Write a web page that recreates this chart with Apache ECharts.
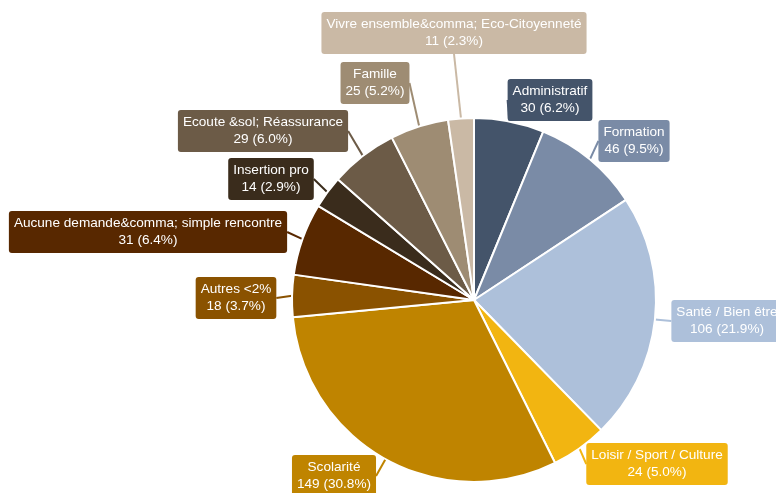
<!DOCTYPE html>
<html>
<head>
<meta charset="utf-8">
<script src="https://cdn.jsdelivr.net/npm/echarts@6/dist/echarts.min.js"></script>
<style>
  html, body { margin: 0; padding: 0; background: #ffffff; }
  #chart { width: 776px; height: 493px; }
</style>
</head>
<body>
<div id="chart"></div>
<script>
// Request categories, clockwise from the top of the pie
const categories = [
  'Administratif',
  'Formation',
  'Santé / Bien être',
  'Loisir / Sport / Culture',
  'Scolarité',
  'Autres <2%',
  'Aucune demande&comma; simple rencontre',
  'Insertion pro',
  'Ecoute &sol; Réassurance',
  'Famille',
  'Vivre ensemble&comma; Eco-Citoyenneté'
];
const counts = [30, 46, 106, 24, 149, 18, 31, 14, 29, 25, 11];
const sliceColors = [
  '#44546a', '#7a8ba6', '#adc0da', '#f2b511', '#bf8400', '#8a5200',
  '#582800', '#3a2c1c', '#6c5b47', '#9e8c73', '#cab9a5'
];
// Where each callout box sits (centre of the box, in pixels)
const calloutPos = [
  [550, 100], [634, 141], [727, 321], [657, 464], [334, 476], [236, 298],
  [148, 232], [271, 179], [263, 131], [375, 83], [454, 33]
];

const total = counts.reduce((a, b) => a + b, 0);

const chart = echarts.init(document.getElementById('chart'), null, { renderer: 'canvas' });
chart.setOption({
  animation: false,
  series: [{
    type: 'pie',
    center: [474, 300],
    radius: 182,
    startAngle: 90,
    clockwise: true,
    avoidLabelOverlap: false,
    itemStyle: { borderColor: '#ffffff', borderWidth: 2 },
    data: categories.map((name, i) => ({
      name: name,
      value: counts[i],
      itemStyle: { color: sliceColors[i] },
      label: { backgroundColor: sliceColors[i] },
      labelLine: { lineStyle: { color: sliceColors[i] } }
    })),
    label: {
      show: true,
      position: 'outside',
      color: '#ffffff',
      fontFamily: 'Liberation Sans, Arial, sans-serif',
      fontSize: 13.6,
      lineHeight: 17,
      padding: [4, 5],
      borderRadius: 3,
      align: 'center',
      formatter: p => p.name + '\n' + p.value + ' (' + (p.value / total * 100).toFixed(1) + '%)'
    },
    labelLine: {
      show: true,
      length: 0,
      length2: 0,
      smooth: false,
      lineStyle: { width: 2 }
    },
    labelLayout: params => {
      const pos = calloutPos[params.dataIndex];
      return { x: pos[0], y: pos[1], align: 'center', verticalAlign: 'middle' };
    }
  }]
});
</script>
</body>
</html>
